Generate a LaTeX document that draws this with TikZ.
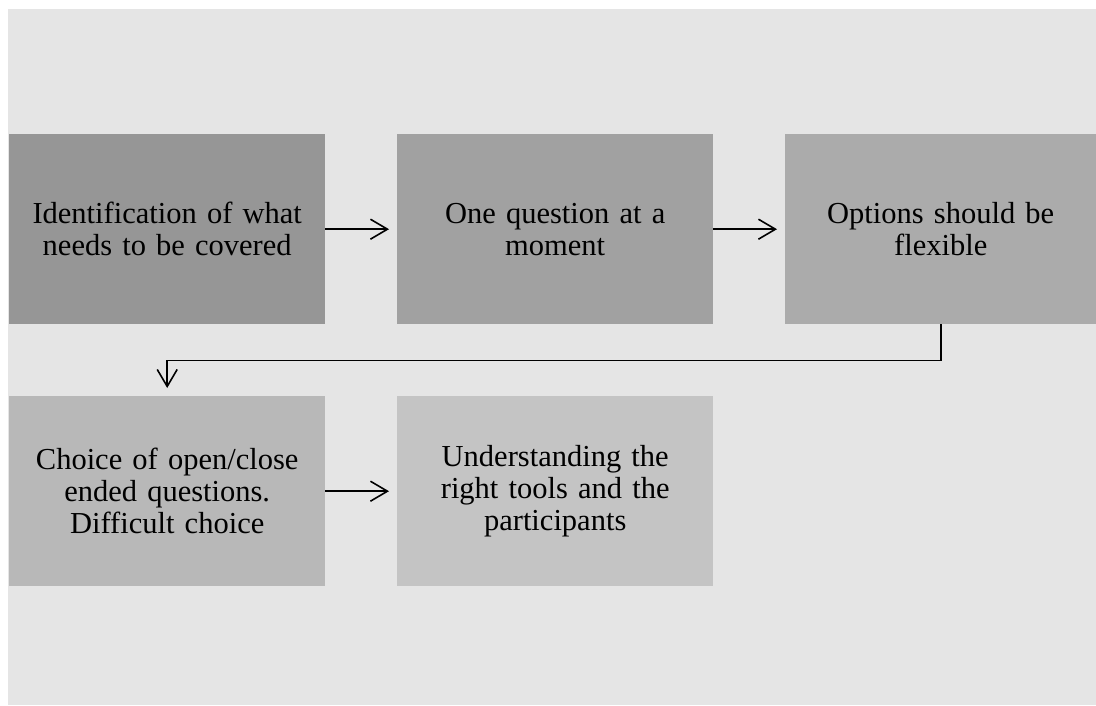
\documentclass[tikz,border=0pt]{standalone}
\usepackage{fontspec}
\setmainfont{Liberation Serif}
\usetikzlibrary{arrows.meta}
\definecolor{bgc}{HTML}{E5E5E5}
\definecolor{cA}{HTML}{969696}
\definecolor{cB}{HTML}{A1A1A1}
\definecolor{cC}{HTML}{ABABAB}
\definecolor{cD}{HTML}{B8B8B8}
\definecolor{cE}{HTML}{C4C4C4}
\tikzset{
  stepbox/.style={rectangle, anchor=north west, inner sep=0pt,
    minimum width=316pt, minimum height=190pt, text width=306pt,
    align=center, font=\fontsize{30.5}{32}\selectfont},
  arr/.style={line width=1.6pt, -{Straight Barb[length=17pt,width=20pt,line width=1.6pt]},
    shorten >=8pt}
}
\begin{document}
\begin{tikzpicture}[x=1pt,y=-1pt]
  \useasboundingbox (0,0) rectangle (1096,705);
  \fill[bgc] (8,9) rectangle (1096,705);
  \node[stepbox, fill=cA] (b1) at (9,134) {Identification of what\\needs to be covered};
  \node[stepbox, fill=cB] (b2) at (397,134) {One question at a\\moment};
  \node[stepbox, fill=cC, minimum width=311pt, text width=301pt] (b3) at (785,134) {Options should be\\flexible};
  \node[stepbox, fill=cD] (b4) at (9,396) {Choice of open/close\\ended questions.\\Difficult choice};
  \node[stepbox, fill=cE] (b5) at (397,396) {Understanding the\\right tools and the\\participants};
  \draw[arr] (b1.east) -- (b2.west);
  \draw[arr] (b2.east) -- (b3.west);
  \draw[arr] (b4.east) -- (b5.west);
  \draw[arr, line join=miter] (b3.south) -- ++(0,36) -| (b4.north);
\end{tikzpicture}
\end{document}
